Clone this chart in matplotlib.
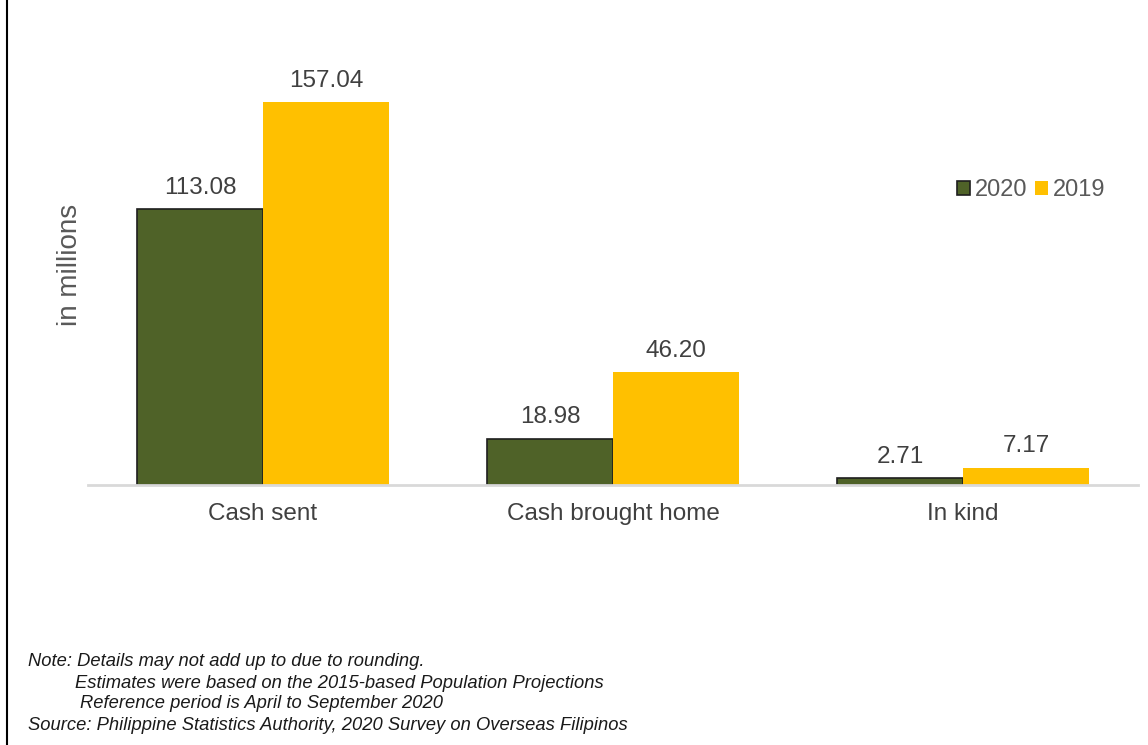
"""Remittances of overseas Filipinos by type, 2020 vs 2019."""
import matplotlib.pyplot as plt
from matplotlib.lines import Line2D
import numpy as np

plt.rcParams["font.family"] = ["Liberation Sans", "DejaVu Sans"]

categories = ["Cash sent", "Cash brought home", "In kind"]
values_2020 = [113.08, 18.98, 2.71]
values_2019 = [157.04, 46.20, 7.17]
series_labels = ["2020", "2019"]

GREEN = "#4F6228"
YELLOW = "#FFC000"
TEXT = "#595959"

W, H = 1148, 745
fig = plt.figure(figsize=(W / 100, H / 100), dpi=100)
ax = fig.add_axes([88 / W, 1 - 485 / H, 1050 / W, 485 / H])

x = np.arange(len(categories))
bw = 0.36
b1 = ax.bar(x - bw / 2, values_2020, bw, color=GREEN, edgecolor="#1e1e1e", linewidth=1.2,
            label=series_labels[0], zorder=3)
b2 = ax.bar(x + bw / 2, values_2019, bw, color=YELLOW, edgecolor="none",
            label=series_labels[1], zorder=3)

for bars, vals in ((b1, values_2020), (b2, values_2019)):
    for r, v in zip(bars, vals):
        ax.annotate(f"{v:.2f}", (r.get_x() + r.get_width() / 2, v), xytext=(0, 15.5),
                    textcoords="offset points", ha="center", va="center",
                    fontsize=17.5, color="#404040")

ax.set_xlim(-0.5, 2.5)
ax.set_ylim(0, 199)
ax.set_xticks(x)
ax.set_xticklabels(categories, fontsize=17.5, color="#404040")
ax.tick_params(axis="x", length=0, pad=13)
ax.set_yticks([])
for s in ("top", "right", "left"):
    ax.spines[s].set_visible(False)
ax.spines["bottom"].set_color("#d9d9d9")
ax.spines["bottom"].set_linewidth(2)
ax.spines["bottom"].set_zorder(4)

fig.text(70 / W, 1 - 265 / H, "in millions", rotation=90, ha="center", va="center",
         fontsize=20, color=TEXT)

ax.legend(loc="center left", bbox_to_anchor=((957 - 88) / 1050, (485 - 190) / 485),
          frameon=False, ncol=2, fontsize=17, handlelength=0.55, handleheight=0.55,
          handletextpad=0.2, columnspacing=0.35, borderaxespad=0, borderpad=0,
          labelcolor=TEXT)

note_lines = [
    (28, 661, "Note: Details may not add up to due to rounding."),
    (75, 683, "Estimates were based on the 2015-based Population Projections"),
    (80, 704, "Reference period is April to September 2020"),
    (28, 725, "Source: Philippine Statistics Authority, 2020 Survey on Overseas Filipinos"),
]
for nx, ny, t in note_lines:
    fig.text(nx / W, 1 - ny / H, t, ha="left", va="center", fontsize=13.2,
             style="italic", color="#1a1a1a")

fig.add_artist(Line2D([6.5 / W, 6.5 / W], [0, 1], color="black", linewidth=1.5))

fig.savefig("out.png", dpi=100)
